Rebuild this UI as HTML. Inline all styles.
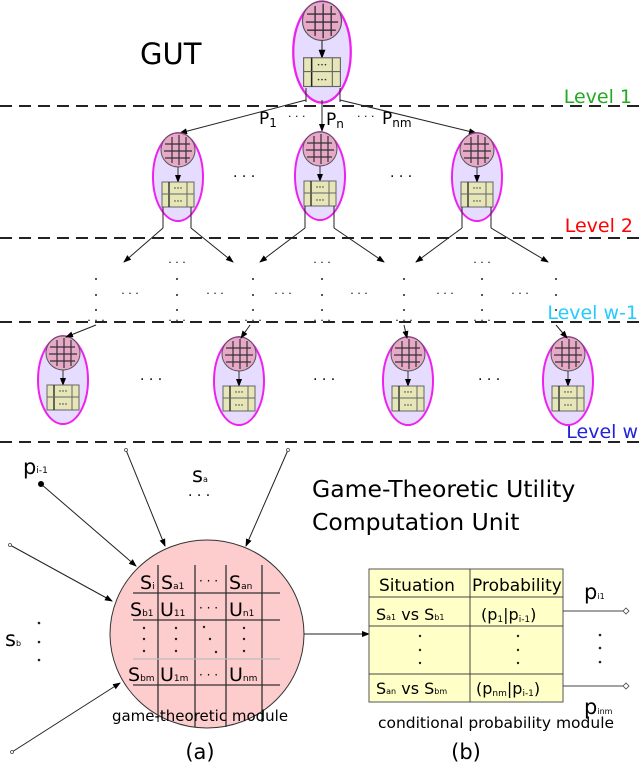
<!DOCTYPE html>
<html><head><meta charset="utf-8"><style>
body{margin:0;background:#fff;}
svg{display:block;font-family:"DejaVu Sans","Liberation Sans",sans-serif;}
</style></head><body>
<svg width="640" height="767" viewBox="0 0 640 767" xmlns="http://www.w3.org/2000/svg">
<defs>
<marker id="ah" markerWidth="8" markerHeight="8" refX="7" refY="4" orient="auto" markerUnits="userSpaceOnUse"><path d="M0,1 L8,4 L0,7 Z" fill="#000"/></marker>
<g id="node">
 <ellipse cx="0" cy="0" rx="25" ry="44" fill="#e6dcff" stroke="#ee22ee" stroke-width="2"/>
 <circle cx="0" cy="-27" r="17" fill="#e8a8c8" stroke="#555" stroke-width="1"/>
 <g stroke="#333" stroke-width="1.2">
  <line x1="-6" y1="-40" x2="-6" y2="-14"/><line x1="1" y1="-42" x2="1" y2="-12"/><line x1="8" y1="-40" x2="8" y2="-14"/>
  <line x1="-13" y1="-33" x2="12" y2="-33"/><line x1="-14" y1="-26" x2="14" y2="-26"/><line x1="-13" y1="-19" x2="12" y2="-19"/>
 </g>
 <line x1="0" y1="-10" x2="0" y2="5" stroke="#333" stroke-width="1" marker-end="url(#ah)"/>
 <rect x="-16" y="5" width="32" height="25" fill="#e6e6b8" stroke="#666" stroke-width="1"/>
 <line x1="-9" y1="5" x2="-9" y2="30" stroke="#222" stroke-width="1.3"/>
 <line x1="9" y1="5" x2="9" y2="30" stroke="#666" stroke-width="1"/>
 <line x1="-16" y1="17" x2="16" y2="17" stroke="#666" stroke-width="1"/>
 <g fill="#333"><circle cx="-3" cy="11" r="0.7"/><circle cx="0" cy="11" r="0.7"/><circle cx="3" cy="11" r="0.7"/><circle cx="-3" cy="24" r="0.7"/><circle cx="0" cy="24" r="0.7"/><circle cx="3" cy="24" r="0.7"/></g>
</g>
</defs>

<g stroke="#222" stroke-width="2" stroke-dasharray="12,7">
<line x1="0" y1="106" x2="640" y2="106"/>
<line x1="0" y1="238" x2="640" y2="238"/>
<line x1="0" y1="322" x2="640" y2="322"/>
<line x1="0" y1="442" x2="640" y2="442"/>
</g>
<g font-size="19" text-anchor="end">
<text x="632" y="103" fill="#22aa22">Level 1</text>
<text x="633" y="232" fill="#ff0000">Level 2</text>
<text x="638" y="319" fill="#22ccff">Level w-1</text>
<text x="638" y="438" fill="#2222dd">Level w</text>
</g>
<text x="140" y="64" font-size="29">GUT</text>

<g transform="translate(322,52) scale(1.15)"><use href="#node"/></g>
<g stroke="#222" stroke-width="1">
<line x1="306" y1="100" x2="180" y2="133" marker-end="url(#ah)"/>
<line x1="322" y1="100" x2="322" y2="131" marker-end="url(#ah)"/>
<line x1="340" y1="100" x2="476" y2="133" marker-end="url(#ah)"/>
<line x1="306" y1="88" x2="306" y2="102"/><line x1="340" y1="88" x2="340" y2="102"/>
</g>
<g font-size="17">
<text x="259" y="124">P<tspan font-size="12" dy="3">1</tspan></text>
<text x="326" y="125">P<tspan font-size="12" dy="3">n</tspan></text>
<text x="382" y="124">P<tspan font-size="12" dy="3">nm</tspan></text>
<text x="288" y="120" font-size="11">· · ·</text>
<text x="357" y="120" font-size="11">· · ·</text>
</g>

<use href="#node" transform="translate(178,177)"/>
<use href="#node" transform="translate(320,176)"/>
<use href="#node" transform="translate(477,177)"/>
<text x="233" y="181" font-size="14">· · ·</text>
<text x="390" y="181" font-size="14">· · ·</text>
<g stroke="#222" stroke-width="1">
<line x1="163" y1="207" x2="163" y2="228"/><line x1="191" y1="207" x2="191" y2="228"/>
<line x1="305" y1="206" x2="305" y2="228"/><line x1="334" y1="206" x2="334" y2="228"/>
<line x1="462" y1="207" x2="462" y2="228"/><line x1="491" y1="207" x2="491" y2="228"/>
<line x1="163" y1="228" x2="124" y2="262" marker-end="url(#ah)"/>
<line x1="191" y1="228" x2="233" y2="262" marker-end="url(#ah)"/>
<line x1="305" y1="228" x2="260" y2="262" marker-end="url(#ah)"/>
<line x1="334" y1="228" x2="384" y2="262" marker-end="url(#ah)"/>
<line x1="462" y1="228" x2="416" y2="262" marker-end="url(#ah)"/>
<line x1="491" y1="228" x2="548" y2="262" marker-end="url(#ah)"/>
</g>
<g fill="#222">
<circle cx="96" cy="279" r="1"/><circle cx="96" cy="295" r="1"/><circle cx="96" cy="310" r="1"/>
<circle cx="177" cy="279" r="1"/><circle cx="177" cy="295" r="1"/><circle cx="177" cy="310" r="1"/>
<circle cx="253" cy="279" r="1"/><circle cx="253" cy="295" r="1"/><circle cx="253" cy="310" r="1"/>
<circle cx="322" cy="279" r="1"/><circle cx="322" cy="295" r="1"/><circle cx="322" cy="310" r="1"/>
<circle cx="404" cy="279" r="1"/><circle cx="404" cy="295" r="1"/><circle cx="404" cy="310" r="1"/>
<circle cx="482" cy="279" r="1"/><circle cx="482" cy="295" r="1"/><circle cx="482" cy="310" r="1"/>
<circle cx="556" cy="279" r="1"/><circle cx="556" cy="295" r="1"/><circle cx="556" cy="310" r="1"/>
</g>
<g font-size="11" text-anchor="middle">
<text x="177" y="266">· · ·</text><text x="322" y="266">· · ·</text><text x="482" y="266">· · ·</text>
<text x="130" y="297">· · ·</text><text x="215" y="297">· · ·</text><text x="283" y="297">· · ·</text>
<text x="359" y="297">· · ·</text><text x="445" y="297">· · ·</text><text x="520" y="297">· · ·</text>
<text x="96" y="324">· · ·</text><text x="177" y="324">· · ·</text><text x="253" y="324">· · ·</text>
<text x="322" y="324">· · ·</text><text x="404" y="324">· · ·</text><text x="482" y="324">· · ·</text>
</g>

<use href="#node" transform="translate(63,380)"/>
<use href="#node" transform="translate(239,381)"/>
<use href="#node" transform="translate(408,381)"/>
<use href="#node" transform="translate(568,381)"/>
<g stroke="#222" stroke-width="1">
<line x1="96" y1="325" x2="66" y2="337" marker-end="url(#ah)"/>
<line x1="250" y1="325" x2="241" y2="338" marker-end="url(#ah)"/>
<line x1="404" y1="325" x2="407" y2="338" marker-end="url(#ah)"/>
<line x1="556" y1="325" x2="567" y2="338" marker-end="url(#ah)"/>
</g>
<text x="140" y="384" font-size="14">· · ·</text>
<text x="313" y="384" font-size="14">· · ·</text>
<text x="478" y="384" font-size="14">· · ·</text>

<text x="312" y="497" font-size="23.5">Game-Theoretic Utility</text>
<text x="312" y="530" font-size="23.5">Computation Unit</text>

<ellipse cx="207" cy="634" rx="97" ry="94" fill="#fdcccc" stroke="#333" stroke-width="1"/>
<g stroke="#333" stroke-width="1.3">
<line x1="158" y1="565" x2="158" y2="722"/>
<line x1="195" y1="565" x2="195" y2="727"/>
<line x1="226" y1="565" x2="226" y2="727"/>
<line x1="262" y1="565" x2="262" y2="722"/>
<line x1="133" y1="593" x2="280" y2="593"/>
<line x1="133" y1="620" x2="280" y2="620"/>
<line x1="133" y1="659" x2="280" y2="659" stroke="#bbb"/>
<line x1="133" y1="685" x2="280" y2="685"/>
</g>
<g font-size="19">
<text x="140" y="589">S<tspan font-size="9">i</tspan></text>
<text x="161" y="589">S<tspan font-size="9">a1</tspan></text>
<text x="229" y="589">S<tspan font-size="9">an</tspan></text>
<text x="130" y="616">S<tspan font-size="9">b1</tspan></text>
<text x="160" y="616">U<tspan font-size="9">11</tspan></text>
<text x="229" y="616">U<tspan font-size="9">n1</tspan></text>
<text x="128" y="681">S<tspan font-size="9">bm</tspan></text>
<text x="160" y="681">U<tspan font-size="9">1m</tspan></text>
<text x="229" y="681">U<tspan font-size="9">nm</tspan></text>
<text x="199" y="585" font-size="12">· · ·</text>
<text x="199" y="612" font-size="12">· · ·</text>
<text x="199" y="679" font-size="12">· · ·</text>
</g>
<g fill="#222">
<circle cx="144" cy="628" r="1.2"/><circle cx="144" cy="639" r="1.2"/><circle cx="144" cy="651" r="1.2"/>
<circle cx="176" cy="628" r="1.2"/><circle cx="176" cy="639" r="1.2"/><circle cx="176" cy="651" r="1.2"/>
<circle cx="204" cy="627" r="1.2"/><circle cx="210" cy="639" r="1.2"/><circle cx="216" cy="652" r="1.2"/>
<circle cx="244" cy="628" r="1.2"/><circle cx="244" cy="639" r="1.2"/><circle cx="244" cy="651" r="1.2"/>
</g>
<text x="200" y="721" font-size="15" text-anchor="middle">game-theoretic module</text>
<text x="200" y="759" font-size="21" text-anchor="middle">(a)</text>

<g stroke="#222" stroke-width="1">
<line x1="41" y1="484" x2="136" y2="566" marker-end="url(#ah)"/>
<line x1="10" y1="545" x2="112" y2="601" marker-end="url(#ah)"/>
<line x1="126" y1="450" x2="165" y2="546" marker-end="url(#ah)"/>
<line x1="288" y1="450" x2="246" y2="546" marker-end="url(#ah)"/>
<line x1="12" y1="752" x2="120" y2="683" marker-end="url(#ah)"/>
<line x1="304" y1="634" x2="369" y2="634" marker-end="url(#ah)"/>
</g>
<circle cx="41" cy="484" r="3" fill="#000"/>
<g fill="#fff" stroke="#444" stroke-width="0.8">
<circle cx="10" cy="545" r="1.5"/><circle cx="126" cy="450" r="1.5"/><circle cx="288" cy="450" r="1.5"/><circle cx="12" cy="752" r="1.5"/>
</g>
<text x="23" y="474" font-size="21">p<tspan font-size="9" dy="-1">i-1</tspan></text>
<text x="192" y="482" font-size="21">s<tspan font-size="8">a</tspan></text>
<text x="188" y="500" font-size="14">· · ·</text>
<text x="5" y="646" font-size="21">s<tspan font-size="8">b</tspan></text>
<g fill="#222"><circle cx="39" cy="623" r="1.3"/><circle cx="39" cy="642" r="1.3"/><circle cx="39" cy="660" r="1.3"/></g>

<rect x="369" y="569" width="194" height="133" fill="#ffffc8" stroke="#555" stroke-width="1"/>
<g stroke="#444" stroke-width="1">
<line x1="470" y1="569" x2="470" y2="702"/>
<line x1="369" y1="597" x2="563" y2="597"/>
<line x1="369" y1="626" x2="563" y2="626"/>
<line x1="369" y1="674" x2="563" y2="674"/>
</g>
<g font-size="17">
<text x="379" y="591">Situation</text>
<text x="472" y="591">Probability</text>
<text x="376" y="620" font-size="16">S<tspan font-size="8">a1</tspan> vs S<tspan font-size="8">b1</tspan></text>
<text x="481" y="620" font-size="16">(p<tspan font-size="9" dy="2">1</tspan><tspan dy="-2">|p</tspan><tspan font-size="9" dy="2">i-1</tspan><tspan dy="-2">)</tspan></text>
<text x="376" y="694" font-size="16">S<tspan font-size="8">an</tspan> vs S<tspan font-size="8">bm</tspan></text>
<text x="476" y="694" font-size="16">(p<tspan font-size="9" dy="2">nm</tspan><tspan dy="-2">|p</tspan><tspan font-size="9" dy="2">i-1</tspan><tspan dy="-2">)</tspan></text>
</g>
<g fill="#222">
<circle cx="420" cy="636" r="1.2"/><circle cx="420" cy="650" r="1.2"/><circle cx="420" cy="663" r="1.2"/>
<circle cx="518" cy="636" r="1.2"/><circle cx="518" cy="650" r="1.2"/><circle cx="518" cy="663" r="1.2"/>
<circle cx="600" cy="635" r="1.3"/><circle cx="600" cy="648" r="1.3"/><circle cx="600" cy="662" r="1.3"/>
</g>
<g stroke="#444" stroke-width="1">
<line x1="563" y1="611" x2="623" y2="611"/>
<line x1="563" y1="686" x2="623" y2="686"/>
</g>
<g fill="#fff" stroke="#444" stroke-width="0.8">
<path d="M623,611 l3,-3 l3,3 l-3,3 Z"/><path d="M623,686 l3,-3 l3,3 l-3,3 Z"/>
</g>
<text x="584" y="599" font-size="21">p<tspan font-size="8">i1</tspan></text>
<text x="584" y="714" font-size="21">p<tspan font-size="8">inm</tspan></text>
<text x="496" y="728" font-size="15.5" text-anchor="middle">conditional probability module</text>
<text x="466" y="759" font-size="21" text-anchor="middle">(b)</text>
</svg>
</body></html>
